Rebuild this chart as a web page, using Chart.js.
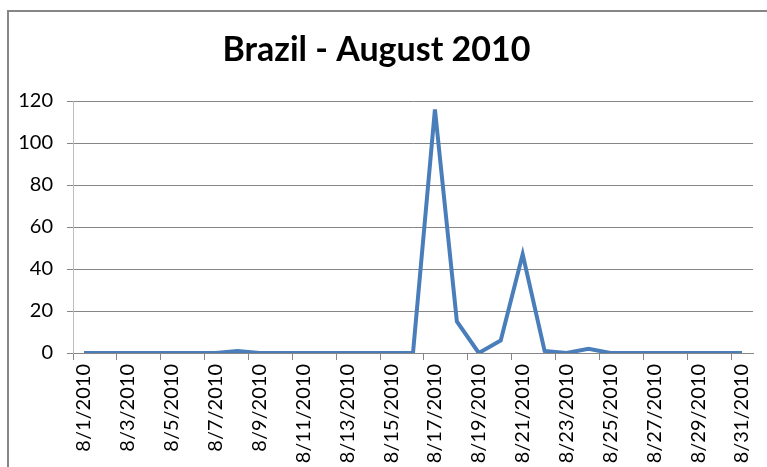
<!DOCTYPE html>
<html>
<head>
<meta charset="utf-8">
<script src="https://cdn.jsdelivr.net/npm/chart.js@4.4.0/dist/chart.umd.min.js"></script>
<style>
  html, body { margin: 0; padding: 0; background: #fff; }
  #wrap { position: relative; width: 767px; height: 467px; overflow: hidden; }
  #frame {
    position: absolute; left: 7px; top: 10px; width: 800px; height: 500px;
    border-top: 2px solid #868686; border-left: 2px solid #868686;
  }
  #chart { position: absolute; left: 0; top: 0; }
</style>
</head>
<body>
<div id="wrap">
  <div id="frame"></div>
  <canvas id="chart" width="767" height="467"></canvas>
</div>
<script>
// days of August 2010
const days = [
  '8/1/2010', '8/2/2010', '8/3/2010', '8/4/2010', '8/5/2010', '8/6/2010', '8/7/2010',
  '8/8/2010', '8/9/2010', '8/10/2010', '8/11/2010', '8/12/2010', '8/13/2010', '8/14/2010',
  '8/15/2010', '8/16/2010', '8/17/2010', '8/18/2010', '8/19/2010', '8/20/2010', '8/21/2010',
  '8/22/2010', '8/23/2010', '8/24/2010', '8/25/2010', '8/26/2010', '8/27/2010', '8/28/2010',
  '8/29/2010', '8/30/2010', '8/31/2010'
];
const counts = [
  0, 0, 0, 0, 0, 0, 0,
  1, 0, 0, 0, 0, 0, 0,
  0, 0, 116, 15, 0, 6, 47,
  1, 0, 2, 0, 0, 0, 0,
  0, 0, 0
];
const yTicks = [0, 20, 40, 60, 80, 100, 120];

const ctx = document.getElementById('chart').getContext('2d');
new Chart(ctx, {
    type: 'line',
    data: {
        labels: days,
        datasets: [{
            label: 'Brazil',
            data: counts,
            borderColor: '#4a7ebb',
            borderWidth: 4,
            pointRadius: 0,
            tension: 0,
            fill: false
        }]
    },
    options: {
        responsive: false,
        animation: false,
        layout: { padding: { left: 0, right: 14, top: 0, bottom: 0 } },
        plugins: {
            legend: { display: false },
            tooltip: { enabled: false },
            title: {
                display: true,
                text: 'Brazil - August 2010',
                color: '#000',
                font: { family: 'Lato', size: 34, weight: 'bold', lineHeight: 1.2 },
                padding: { top: 29.6, bottom: 30.6 }
            }
        },
        scales: {
            x: {
                offset: true,
                afterFit: s => { s.height = 114; s.paddingLeft = 0; s.paddingRight = 0; },
                border: { color: '#868686', width: 1 },
                grid: {
                    offset: true,
                    drawOnChartArea: false,
                    drawTicks: true,
                    tickLength: 7,
                    color: c => (c.index !== undefined && c.index % 2 === 0) ? '#868686' : 'rgba(0,0,0,0)'
                },
                ticks: {
                    autoSkip: false,
                    maxRotation: 90,
                    minRotation: 90,
                    padding: 4,
                    color: '#000',
                    font: { family: 'Lato', size: 20 },
                    callback: function(value, index) { return index % 2 === 0 ? days[index] : ''; }
                }
            },
            y: {
                min: 0,
                max: 120,
                afterFit: s => { s.width = 73; },
                afterBuildTicks: s => { s.ticks = yTicks.map(v => ({ value: v })); },
                border: { color: '#bdbdbd', width: 1 },
                grid: { color: '#868686', tickLength: 6, drawTicks: true },
                ticks: {
                    padding: 14,
                    color: '#000',
                    font: { family: 'Lato', size: 20 }
                }
            }
        }
    }
});
</script>
</body>
</html>
